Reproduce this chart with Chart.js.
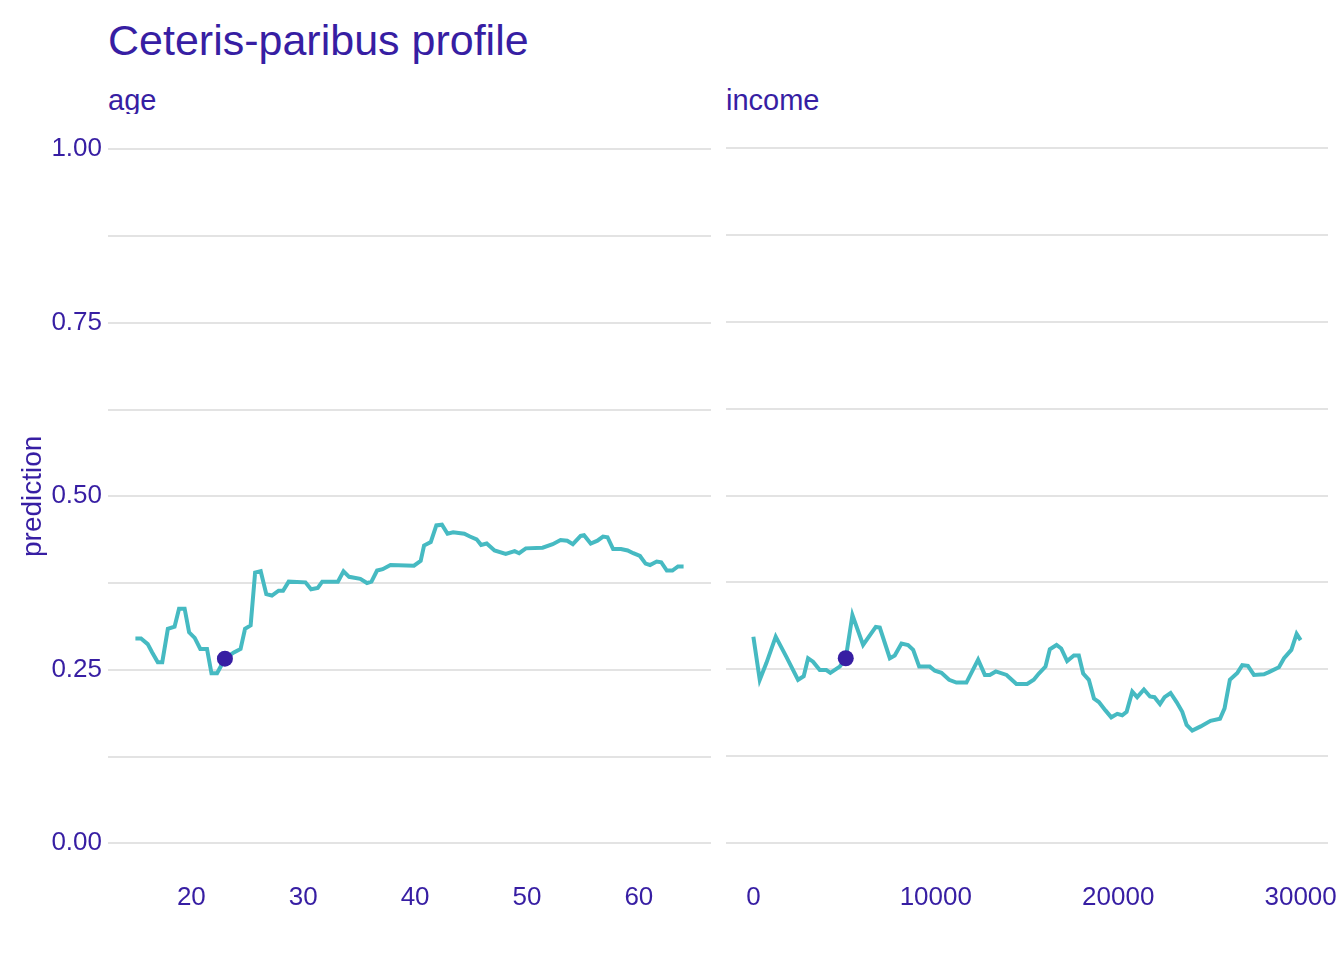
<!DOCTYPE html>
<html>
<head>
<meta charset="utf-8">
<script src="https://cdn.jsdelivr.net/npm/chart.js@4/dist/chart.umd.min.js"></script>
<style>
  body { margin: 0; background: #fff; font-family: "Liberation Sans", Arial, sans-serif; }
  #wrap { position: relative; width: 1344px; height: 960px; overflow: hidden; }
  .txt { position: absolute; color: #371ea3; white-space: nowrap; }
  #title { left: 108px; top: 19px; font-size: 43px; line-height: 43px; }
  .strip { top: 86px; height: 28px; font-size: 29px; line-height: 29px; overflow: hidden; }
  canvas { position: absolute; }
</style>
</head>
<body>
<div id="wrap">
  <div id="title" class="txt">Ceteris-paribus profile</div>
  <div class="txt strip" style="left:108px">age</div>
  <div class="txt strip" style="left:726px">income</div>
  <canvas id="cpAge" width="711" height="835" style="left:0;top:93px"></canvas>
  <canvas id="cpIncome" width="618" height="835" style="left:726px;top:93px"></canvas>
</div>
<script>
// profile for age
var age_x = [15, 15.5, 16.1, 16.5, 17.0, 17.4, 17.9, 18.5, 18.9, 19.4, 19.8, 20.3, 20.8, 21.4, 21.8, 22.3,
  23.0, 23.8, 24.4, 24.8, 25.3, 25.7, 26.2, 26.7, 27.2, 27.8, 28.2, 28.7, 30.2, 30.7, 31.3, 31.7,
  33.1, 33.6, 34.1, 35.1, 35.7, 36.1, 36.6, 37.1, 37.8, 39.9, 40.5, 40.8, 41.4, 41.9, 42.4, 42.9,
  43.4, 44.4, 44.9, 45.5, 45.9, 46.4, 47.1, 48.1, 48.9, 49.3, 49.9, 51.4, 52.3, 53.0, 53.6, 54.1,
  54.8, 55.1, 55.7, 56.3, 56.8, 57.2, 57.7, 58.4, 59.0, 59.5, 60.1, 60.6, 61.0, 61.6, 62.0, 62.5,
  63.0, 63.5, 64.0]
var age_y = [0.295, 0.295, 0.287, 0.275, 0.261, 0.261, 0.309, 0.312, 0.338, 0.338, 0.304, 0.296, 0.280, 0.280, 0.245, 0.245,
  0.266, 0.275, 0.280, 0.309, 0.314, 0.390, 0.392, 0.359, 0.357, 0.364, 0.364, 0.377, 0.376, 0.366, 0.368, 0.377,
  0.377, 0.392, 0.384, 0.381, 0.375, 0.377, 0.393, 0.395, 0.401, 0.400, 0.407, 0.429, 0.434, 0.458, 0.459, 0.446,
  0.448, 0.446, 0.442, 0.438, 0.430, 0.432, 0.422, 0.417, 0.421, 0.418, 0.425, 0.426, 0.431, 0.437, 0.436, 0.431,
  0.443, 0.444, 0.432, 0.436, 0.442, 0.441, 0.424, 0.424, 0.422, 0.418, 0.414, 0.403, 0.401, 0.406, 0.405, 0.393,
  0.393, 0.399, 0.399]

// profile for income
var income_x = [0, 350, 713, 1225, 1810, 2450, 2760, 3000, 3270, 3640, 4000, 4220, 4735, 5065, 5430, 6015,
  6710, 6930, 7480, 7750, 8120, 8480, 8760, 9090, 9670, 9950, 10310, 10730, 11130, 11680, 12320, 12690,
  12960, 13290, 13880, 14420, 15010, 15370, 15650, 16015, 16250, 16620, 16875, 17200, 17570, 17840, 18080, 18390,
  18670, 18940, 19300, 19620, 19950, 20220, 20460, 20770, 21040, 21410, 21740, 21990, 22290, 22540, 22870, 23200,
  23510, 23750, 24060, 24520, 25060, 25580, 25830, 26120, 26530, 26800, 27110, 27440, 27990, 28260, 28810, 29090,
  29490, 29780, 30000]
var income_y = [0.297, 0.235, 0.259, 0.297, 0.268, 0.235, 0.240, 0.266, 0.261, 0.249, 0.249, 0.245, 0.254, 0.266, 0.328, 0.285,
  0.311, 0.310, 0.266, 0.270, 0.287, 0.285, 0.278, 0.254, 0.254, 0.248, 0.245, 0.235, 0.231, 0.231, 0.264, 0.242,
  0.242, 0.247, 0.242, 0.229, 0.229, 0.235, 0.244, 0.254, 0.279, 0.285, 0.280, 0.262, 0.270, 0.270, 0.244, 0.235,
  0.208, 0.203, 0.191, 0.181, 0.186, 0.184, 0.189, 0.218, 0.210, 0.221, 0.211, 0.210, 0.200, 0.210, 0.216, 0.203,
  0.189, 0.170, 0.162, 0.168, 0.176, 0.179, 0.194, 0.235, 0.245, 0.256, 0.255, 0.242, 0.243, 0.246, 0.253, 0.266,
  0.278, 0.301, 0.292]

// the observation itself
var obs_age = 23.0
var obs_income = 5065
var obs_pred = 0.266

var y_ticks = [0, 0.125, 0.25, 0.375, 0.5, 0.625, 0.75, 0.875, 1]
var age_ticks = [20, 30, 40, 50, 60]
var income_ticks = [0, 10000, 20000, 30000]

var purple = '#371ea3'
var teal = '#46bac2'
var gridColor = '#e3e3e3'
var tickFont = { family: 'Liberation Sans, Arial, sans-serif', size: 26 }

function points(xs, ys) {
  return xs.map(function (x, i) { return { x: x, y: ys[i] } })
}

function makePanel(id, xs, ys, obsX, xTicks, xMin, xMax, showY) {
  return new Chart(document.getElementById(id), {
    type: 'line',
    data: {
      datasets: [
        {
          type: 'scatter',
          data: [{ x: obsX, y: obs_pred }],
          backgroundColor: purple,
          borderColor: purple,
          pointRadius: 8,
          pointBorderWidth: 0,
        },
        {
          data: points(xs, ys),
          borderColor: teal,
          borderWidth: 4,
          pointRadius: 0,
          fill: false,
          tension: 0,
        },
      ]
    },
    options: {
      responsive: false,
      animation: false,
      events: [],
      layout: { autoPadding: false, padding: { top: 20, right: showY ? 0 : 16, left: 0, bottom: 0 } },
      plugins: { legend: { display: false }, tooltip: { enabled: false } },
      scales: {
        x: {
          type: 'linear',
          min: xMin,
          max: xMax,
          grid: { display: false },
          border: { display: false },
          afterBuildTicks: function (s) { s.ticks = xTicks.map(function (v) { return { value: v } }) },
          afterFit: function (s) { s.height = 50 },
          ticks: {
            color: purple,
            font: tickFont,
            padding: -4,
            maxRotation: 0,
            autoSkip: false,
            callback: function (v) { return String(v) }
          }
        },
        y: {
          min: -0.05,
          max: 1.05,
          border: { display: false },
          grid: { color: gridColor, lineWidth: 2, drawTicks: false },
          afterBuildTicks: function (s) { s.ticks = y_ticks.map(function (v) { return { value: v } }) },
          afterFit: function (s) { s.width = showY ? 108 : 0 },
          title: {
            display: showY,
            text: 'prediction',
            color: purple,
            font: { family: 'Liberation Sans, Arial, sans-serif', size: 28 },
            padding: { top: 16, bottom: 0 }
          },
          ticks: {
            display: showY,
            color: purple,
            font: tickFont,
            padding: 6,
            autoSkip: false,
            callback: function (v) {
              return (Math.round(v * 100) % 25 === 0) ? v.toFixed(2) : ''
            }
          }
        }
      }
    }
  })
}

var chartAge = makePanel('cpAge', age_x, age_y, obs_age, age_ticks, 12.55, 66.45, true)
var chartIncome = makePanel('cpIncome', income_x, income_y, obs_income, income_ticks, -1500, 31500, false)
</script>
</body>
</html>
